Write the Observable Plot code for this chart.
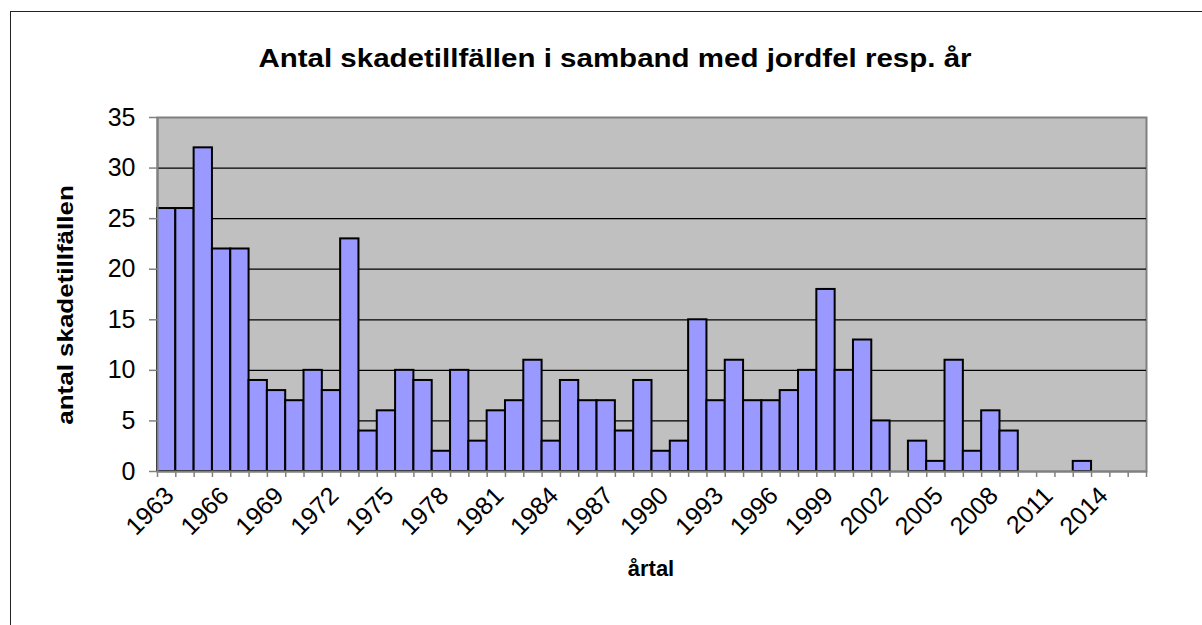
<!DOCTYPE html>
<html>
<head>
<meta charset="utf-8">
<script src="https://cdn.jsdelivr.net/npm/d3@7"></script>
<script src="https://cdn.jsdelivr.net/npm/@observablehq/plot@0.6"></script>
<style>
  html, body { margin: 0; padding: 0; width: 1202px; height: 625px; overflow: hidden; background: #fff; }
  #frame { position: absolute; left: 10px; top: 11px; width: 1300px; height: 700px; border: 1px solid #222; box-sizing: border-box; }
  #chart { position: absolute; left: 0; top: 0; }
  .lbl { position: absolute; font-family: "Liberation Sans", Arial, sans-serif; font-weight: bold; color: #000; white-space: nowrap; }
  #title { left: 615px; top: 44px; font-size: 25px; transform: translateX(-50%) scaleX(1.18); }
  #xlabel { left: 651px; top: 556px; font-size: 22px; transform: translateX(-50%); }
  #ylabel { left: 66px; top: 305px; font-size: 22px; transform: translate(-50%, -50%) rotate(-90deg) scaleX(1.18); }
</style>
</head>
<body>
<div id="frame"></div>
<div id="chart"></div>
<div id="title" class="lbl">Antal skadetillfällen i samband med jordfel resp. år</div>
<div id="ylabel" class="lbl">antal skadetillfällen</div>
<div id="xlabel" class="lbl">årtal</div>
<script>
const years = [1963,1964,1965,1966,1967,1968,1969,1970,1971,1972,1973,1974,1975,1976,1977,1978,1979,1980,1981,1982,1983,1984,1985,1986,1987,1988,1989,1990,1991,1992,1993,1994,1995,1996,1997,1998,1999,2000,2001,2002,2003,2004,2005,2006,2007,2008,2009,2010,2011,2012,2013,2014,2015,2016];
const counts = [26,26,32,22,22,9,8,7,10,8,23,4,6,10,9,2,10,3,6,7,11,3,9,7,7,4,9,2,3,15,7,11,7,7,8,10,18,10,13,5,0,3,1,11,2,6,4,0,0,0,1,0,0,0];
const yTicks = [0,5,10,15,20,25,30,35];
const yGrid = [5,10,15,20,25,30];
const xTickLabels = [1963,1966,1969,1972,1975,1978,1981,1984,1987,1990,1993,1996,1999,2002,2005,2008,2011,2014];

const data = years.map((y, i) => ({year: y, count: counts[i]}));
const boundaries = years.concat([years[years.length - 1] + 1]);

const chart = Plot.plot({
  width: 1202,
  height: 625,
  marginLeft: 157,
  marginRight: 56,
  marginTop: 117,
  marginBottom: 154,
  style: {fontFamily: "'Liberation Sans', Arial, sans-serif", color: "#000", background: "transparent", overflow: "visible"},
  x: {domain: [years[0], years[years.length - 1] + 1], axis: null},
  y: {domain: [0, 35], axis: null},
  marks: [
    Plot.frame({fill: "#c0c0c0", stroke: "#808080", strokeWidth: 2}),
    Plot.ruleY(yGrid, {stroke: "#000", strokeWidth: 1.2}),
    Plot.rectY(data.filter(d => d.count > 0), {x1: "year", x2: d => d.year + 1, y: "count", fill: "#9999ff", stroke: "#000", strokeWidth: 2}),
    Plot.ruleX([years[0]], {stroke: "#808080", strokeWidth: 2}),
    Plot.ruleY([0], {stroke: "#808080", strokeWidth: 2}),
    Plot.axisY(yTicks, {anchor: "left", label: null, tickSize: 8, tickPadding: 14, fontSize: 25, stroke: "#808080", strokeWidth: 1.5, tickFormat: d => String(d)}),
    Plot.axisX(boundaries, {anchor: "bottom", label: null, tickSize: 6, tickPadding: 0, stroke: "#808080", strokeWidth: 1.5, tickFormat: () => ""}),
    Plot.axisX(xTickLabels.map(d => d + 0.5), {anchor: "bottom", label: null, tickSize: 0, tickPadding: 20, dx: 3, tickRotate: -45, fontSize: 25, tickFormat: d => String(d - 0.5)})
  ]
});
document.getElementById("chart").appendChild(chart);
</script>
</body>
</html>
